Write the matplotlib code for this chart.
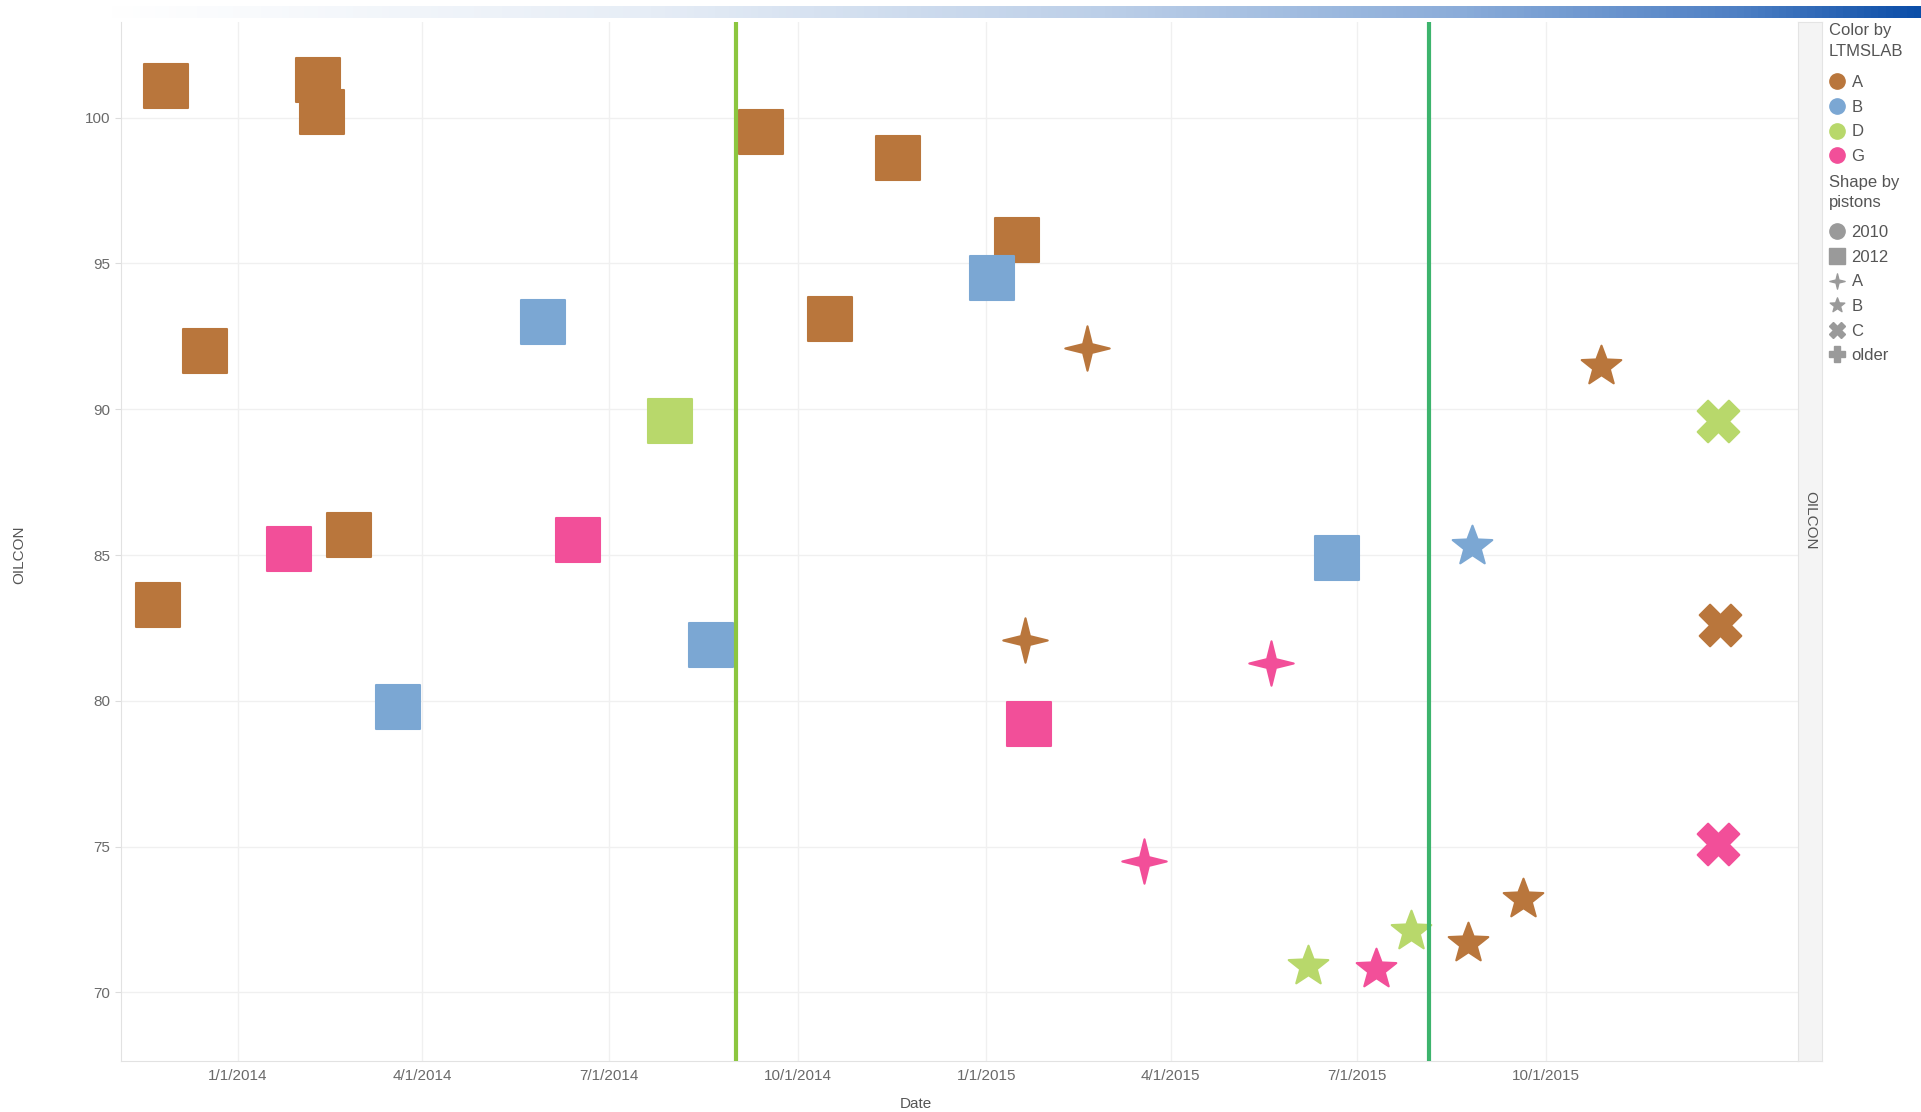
import datetime as dt
import numpy as np
import matplotlib
matplotlib.use("Agg")
import matplotlib.pyplot as plt
import matplotlib.dates as mdates
from matplotlib.path import Path
from matplotlib.lines import Line2D
from matplotlib.colors import LinearSegmentedColormap
from matplotlib.ticker import FuncFormatter

plt.rcParams['font.family'] = ['Liberation Sans', 'DejaVu Sans']

# data
dates = ['2013-11-27', '2014-02-09', '2014-02-11', '2013-12-16', '2013-11-23',
         '2014-02-24', '2014-09-13', '2014-11-19', '2015-01-16', '2014-10-17',
         '2014-05-30', '2014-03-20', '2014-08-20', '2015-01-04', '2015-06-21',
         '2014-07-31',
         '2014-01-26', '2014-06-16', '2015-01-22',
         '2015-02-19', '2015-01-20', '2015-05-20', '2015-03-19',
         '2015-10-28', '2015-09-20', '2015-08-24', '2015-08-26',
         '2015-06-07', '2015-07-27', '2015-07-10',
         '2015-12-24', '2015-12-25', '2015-12-24']
oilcon = [101.1, 101.3, 100.2, 92.0, 83.3,
          85.7, 99.5, 98.6, 95.8, 93.1,
          93.0, 79.8, 81.9, 94.5, 84.9,
          89.6,
          85.2, 85.5, 79.2,
          92.1, 82.1, 81.3, 74.5,
          91.5, 73.2, 71.7, 85.3,
          70.9, 72.1, 70.8,
          89.6, 82.6, 75.1]
ltmslab = ['A', 'A', 'A', 'A', 'A', 'A', 'A', 'A', 'A', 'A',
           'B', 'B', 'B', 'B', 'B',
           'D',
           'G', 'G', 'G',
           'A', 'A', 'G', 'G',
           'A', 'A', 'A', 'B',
           'D', 'D', 'G',
           'D', 'A', 'G']
pistons = ['2012'] * 19 + ['A'] * 4 + ['B'] * 7 + ['C'] * 3

lab_names = ['A', 'B', 'D', 'G']
lab_colors = ['#b9763c', '#7ba7d3', '#b8d86b', '#f24f99']
piston_names = ['2010', '2012', 'A', 'B', 'C', 'older']

event_dates = ['2014-09-01', '2015-08-05']
event_colors = ['#8cc63f', '#3db46d']

tick_dates = ['2014-01-01', '2014-04-01', '2014-07-01', '2014-10-01',
              '2015-01-01', '2015-04-01', '2015-07-01', '2015-10-01']
y_ticks = [70, 75, 80, 85, 90, 95, 100]

star4 = Path.unit_regular_star(4, 0.28)
star5 = Path.unit_regular_star(5, 0.42)
piston_markers = {'2010': 'o', '2012': 's', 'A': star4, 'B': star5, 'C': 'X', 'older': 'P'}
piston_sizes = {'2010': 30, '2012': 31, 'A': 32, 'B': 30, 'C': 30, 'older': 30}
color_of = dict(zip(lab_names, lab_colors))


def to_dt(s):
    return dt.datetime.strptime(s, '%Y-%m-%d')


W, H = 1921, 1112
fig = plt.figure(figsize=(W / 100, H / 100), dpi=100)
fig.patch.set_facecolor('white')

L, R, T, B = 121, 1798, 22, 1061
ax = fig.add_axes([L / W, 1 - B / H, (R - L) / W, (B - T) / H])

for d, yi, c, p in zip(dates, oilcon, ltmslab, pistons):
    ax.scatter([to_dt(d)], [yi], marker=piston_markers[p], s=piston_sizes[p] ** 2,
               color=color_of[c], edgecolor=color_of[c], linewidth=1.5,
               zorder=3)

for d, c in zip(event_dates, event_colors):
    ax.axvline(to_dt(d), color=c, lw=3, zorder=4)

ax.set_xlim(dt.datetime(2013, 11, 5), dt.datetime(2016, 2, 1))
ax.set_ylim(67.65, 103.28)
ax.set_yticks(y_ticks)
ax.set_xticks([to_dt(d) for d in tick_dates])
ax.xaxis.set_major_formatter(FuncFormatter(
    lambda v, pos: '{d.month}/{d.day}/{d.year}'.format(d=mdates.num2date(v))))
ax.grid(True, color='#f0f0f0', lw=1.0, zorder=0)
ax.set_axisbelow(True)
ax.tick_params(colors='#dcdcdc', labelcolor='#6a6a6a', labelsize=11, length=4)
ax.tick_params(axis='x', length=0, pad=6)
for s in ['top', 'right']:
    ax.spines[s].set_visible(False)
for s in ['left', 'bottom']:
    ax.spines[s].set_color('#e2e2e2')

fig.text(916 / W, 1 - 1104 / H, 'Date', ha='center', va='center', fontsize=11, color='#555555')
fig.text(19 / W, 1 - 555 / H, 'OILCON', ha='center', va='center', rotation=90,
         fontsize=11, color='#555555')

# right header strip
strip = fig.add_axes([R / W, 1 - B / H, 24 / W, (B - T) / H])
strip.set_facecolor('#f4f4f4')
strip.set_xticks([])
strip.set_yticks([])
for s in strip.spines.values():
    s.set_color('#e4e4e4')
strip.text(0.5, 0.52, 'OILCON', rotation=270, ha='center', va='center',
           fontsize=11, color='#555555', transform=strip.transAxes)

# gradient banner
cmap = LinearSegmentedColormap.from_list('banner', [(0, '#ffffff'), (0.3, '#e6edf6'),
                                                     (0.55, '#bccfe8'), (0.75, '#8aacd9'),
                                                     (0.9, '#4f80c4'), (1, '#0b4ea8')])
band = fig.add_axes([105 / W, 1 - 18 / H, 1 - 105 / W, 12 / H])
band.imshow(np.linspace(0, 1, 512)[None, :], aspect='auto', cmap=cmap)
band.axis('off')


def side_legend(handles, labels, title, title_y, top):
    for i, line in enumerate(title.split('\n')):
        fig.text(1829 / W, 1 - (title_y + 21 * i) / H, line, ha='left', va='center',
                 fontsize=12, color='#555555')
    leg = fig.legend(handles, labels, loc='upper left',
                     bbox_to_anchor=(1829 / W, 1 - top / H), frameon=False, borderpad=0,
                     handlelength=0.9, handletextpad=0.45, labelspacing=0.58,
                     fontsize=12, borderaxespad=0)
    for t in leg.get_texts():
        t.set_color('#555555')
    return leg


lab_handles = [Line2D([], [], ls='none', marker='o', ms=11, color=c) for c in lab_colors]
leg1 = side_legend(lab_handles, lab_names, 'Color by\nLTMSLAB', 31, 75)

shape_handles = [Line2D([], [], ls='none', marker=piston_markers[p], ms=11,
                        color='#9a9a9a') for p in piston_names]
leg2 = side_legend(shape_handles, piston_names, 'Shape by\npistons', 182, 225)

fig.savefig('out.png', dpi=100)
